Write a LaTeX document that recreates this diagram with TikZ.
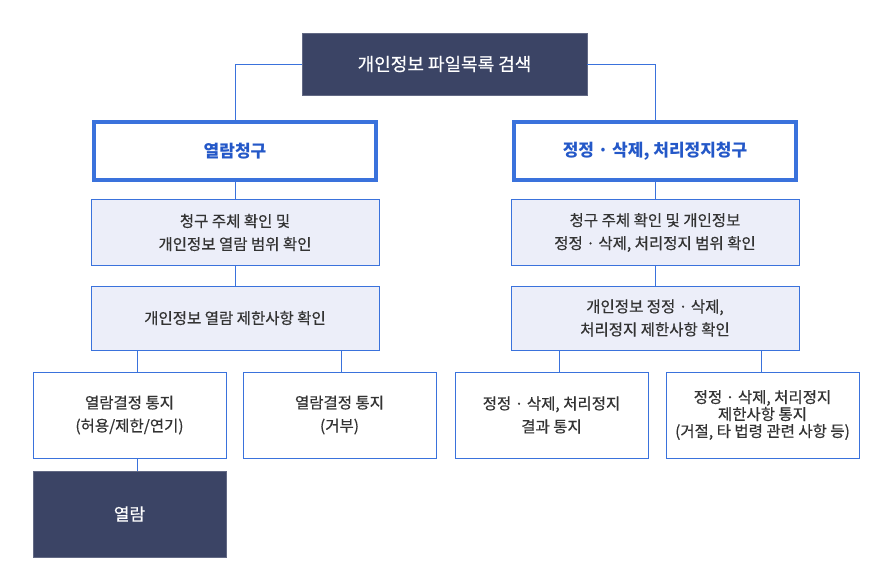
\documentclass[tikz,border=0pt]{standalone}
\usepackage{fontspec}
\setmainfont{Noto Sans CJK KR}
\newfontfamily\medfont[FakeBold=0.5]{Noto Sans CJK KR}
\definecolor{navy}{HTML}{3B4465}
\definecolor{bline}{HTML}{3A72DC}
\definecolor{btext}{HTML}{2458C8}
\definecolor{lfill}{HTML}{ECEEF9}
\definecolor{dtext}{HTML}{333333}
\begin{document}
\begin{tikzpicture}[x=1pt,y=-1pt,
  darkbox/.style={fill=navy,draw=navy!80!white,line width=0.8pt,text=white,font=\medfont\fontsize{17}{20}\selectfont,align=center,inner sep=0pt},
  headbox/.style={fill=white,draw=bline,line width=4pt,text=btext,font=\fontsize{17}{20}\selectfont\bfseries,align=center,inner sep=0pt},
  stepbox/.style={fill=lfill,draw=bline,line width=1pt,text=dtext,font=\medfont\fontsize{15.5}{23}\selectfont,align=center,inner sep=0pt},
  endbox/.style={fill=white,draw=bline,line width=1pt,text=dtext,font=\medfont\fontsize{15.5}{23}\selectfont,align=center,inner sep=0pt},
  conn/.style={draw=bline,line width=0.8pt}]
\useasboundingbox (0,0) rectangle (890,585);
% top
\node[darkbox,minimum width=285pt,minimum height=62pt,font=\medfont\fontsize{18}{21}\selectfont] (top) at (444.5,64) {개인정보 파일목록 검색};
% heads
\node[headbox,minimum width=282pt,minimum height=58pt] (hl) at (235,151) {열람청구};
\node[headbox,minimum width=282pt,minimum height=58pt] (hr) at (655,151) {정정 · 삭제, 처리정지청구};
% left column
\node[stepbox,minimum width=288pt,minimum height=65pt] (l1) at (235,232.5) {청구 주체 확인 및\\개인정보 열람 범위 확인};
\node[stepbox,minimum width=288pt,minimum height=64pt] (l2) at (235,318) {개인정보 열람 제한사항 확인};
% right column
\node[stepbox,minimum width=288pt,minimum height=65pt] (r1) at (655,232.5) {청구 주체 확인 및 개인정보\\정정 · 삭제, 처리정지 범위 확인};
\node[stepbox,minimum width=288pt,minimum height=64pt] (r2) at (655,318) {개인정보 정정 · 삭제,\\처리정지 제한사항 확인};
% bottom row
\node[endbox,minimum width=193pt,minimum height=86pt] (b1) at (129.5,415) {열람결정 통지\\(허용/제한/연기)};
\node[endbox,minimum width=193pt,minimum height=86pt] (b2) at (339.5,415) {열람결정 통지\\(거부)};
\node[endbox,minimum width=193pt,minimum height=86pt] (b3) at (551.5,415) {정정 · 삭제, 처리정지\\결과 통지};
\node[endbox,minimum width=193pt,minimum height=86pt,font=\medfont\fontsize{15.5}{17}\selectfont] (b4) at (762.5,415) {정정 · 삭제, 처리정지\\제한사항 통지\\(거절, 타 법령 관련 사항 등)};
\node[darkbox,minimum width=193pt,minimum height=86pt] (view) at (129.5,514) {열람};
% connectors
\draw[conn] (top.west) -| (hl.north);
\draw[conn] (top.east) -| (hr.north);
\draw[conn] (hl.south) -- (l1.north);
\draw[conn] (l1.south) -- (l2.north);
\draw[conn] (hr.south) -- (r1.north);
\draw[conn] (r1.south) -- (r2.north);
\coordinate (l2a) at ([xshift=-98pt]l2.south);
\coordinate (l2b) at ([xshift=106pt]l2.south);
\coordinate (r2a) at ([xshift=-96pt]r2.south);
\coordinate (r2b) at ([xshift=106pt]r2.south);
\draw[conn] (l2a) -- (l2a |- b1.north);
\draw[conn] (l2b) -- (l2b |- b2.north);
\draw[conn] (r2a) -- (r2a |- b3.north);
\draw[conn] (r2b) -- (r2b |- b4.north);
\draw[conn] ([xshift=7.5pt]b1.south) -- ([xshift=7.5pt]view.north);
\end{tikzpicture}
\end{document}
